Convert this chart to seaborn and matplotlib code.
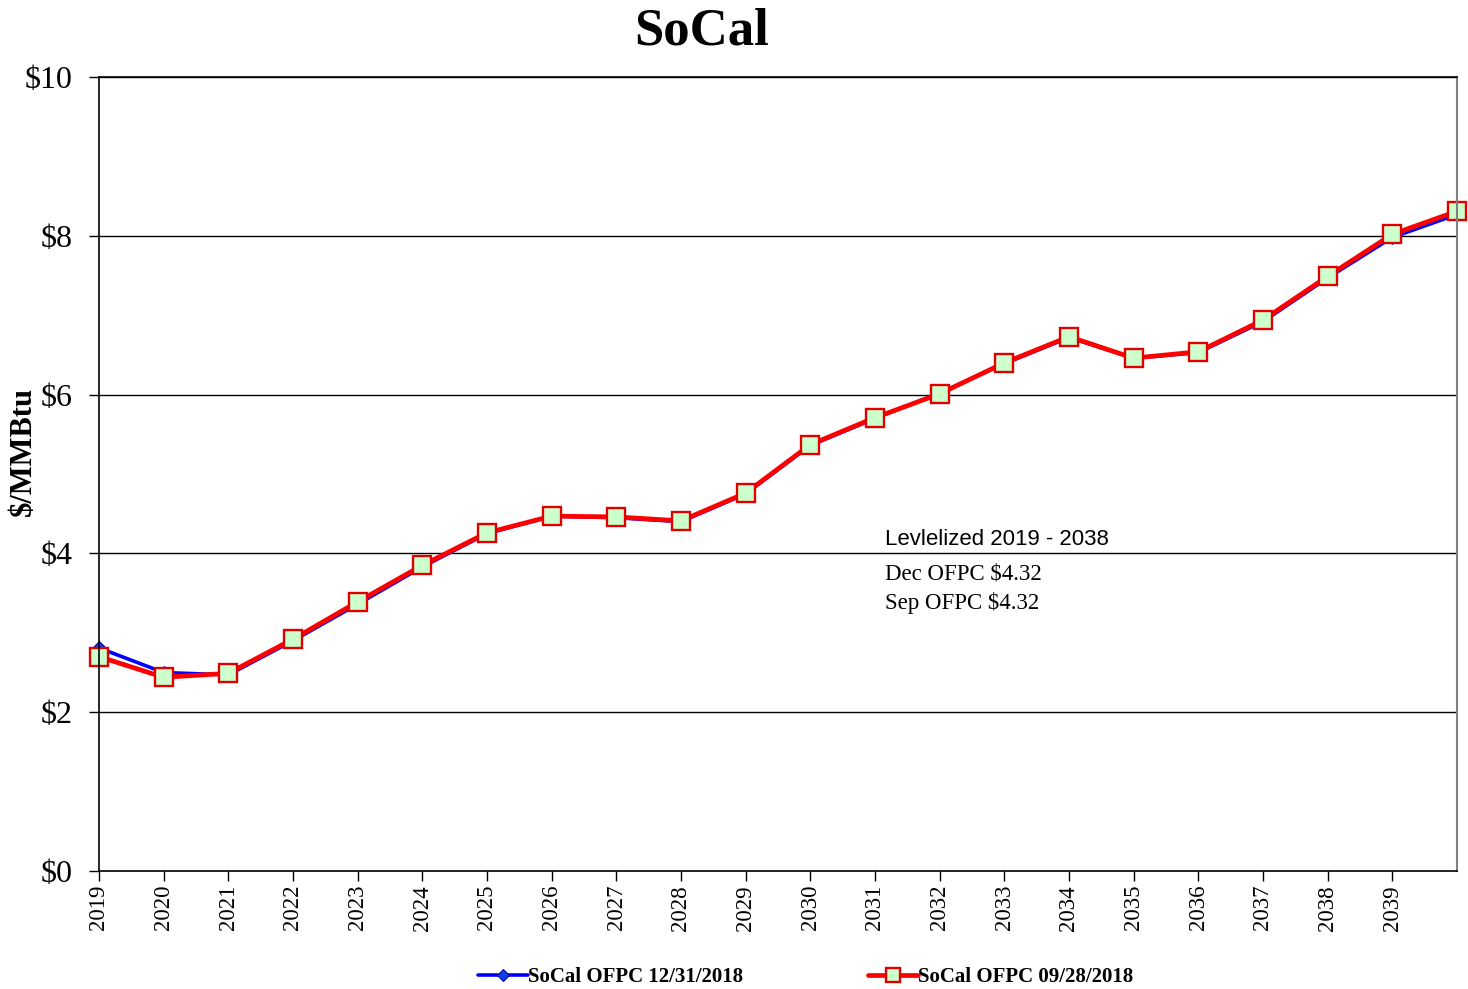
import matplotlib
matplotlib.use("Agg")
import matplotlib.pyplot as plt
import seaborn as sns
import pandas as pd

years = list(range(2019, 2041))
dec_ofpc = [2.81, 2.50, 2.47, 2.90, 3.36, 3.83, 4.25, 4.47, 4.45, 4.40, 4.75, 5.36,
            5.70, 6.02, 6.39, 6.72, 6.46, 6.53, 6.92, 7.47, 7.98, 8.27]
sep_ofpc = [2.70, 2.44, 2.49, 2.92, 3.39, 3.85, 4.26, 4.47, 4.46, 4.41, 4.76, 5.37,
            5.71, 6.01, 6.40, 6.73, 6.46, 6.54, 6.94, 7.49, 8.02, 8.31]
series_names = ["SoCal OFPC 12/31/2018", "SoCal OFPC 09/28/2018"]
tick_years = list(range(2019, 2040))
y_ticks = [0, 2, 4, 6, 8, 10]
y_tick_labels = ["$0", "$2", "$4", "$6", "$8", "$10"]

sns.set_style("white")
plt.rcParams["font.family"] = ["Liberation Serif", "DejaVu Serif"]
plt.rcParams["text.color"] = "black"
plt.rcParams["axes.labelcolor"] = "black"
plt.rcParams["xtick.color"] = "black"
plt.rcParams["ytick.color"] = "black"

fig = plt.figure(figsize=(14.68, 9.89), dpi=100)
ax = fig.add_axes([0.0674, 0.1193, 0.9251, 0.8028])

df_dec = pd.DataFrame({"year": years, "price": dec_ofpc})
df_sep = pd.DataFrame({"year": years, "price": sep_ofpc})

sns.lineplot(data=df_dec, x="year", y="price", ax=ax, color="#0000ff", lw=2.6,
             marker="D", markersize=7.5, markerfacecolor="#1040e0",
             markeredgecolor="#0000aa", label=series_names[0], clip_on=False)
sns.lineplot(data=df_sep, x="year", y="price", ax=ax, color="#ff0000", lw=3.4,
             marker="s", markersize=12.5, markerfacecolor="#ccffcc",
             markeredgecolor="#e00000", markeredgewidth=1.7, label=series_names[1],
             clip_on=False)

ax.set_xlim(2019, 2040)
ax.set_ylim(0, 10)
ax.set_yticks(y_ticks)
ax.set_yticklabels(y_tick_labels, fontsize=23)
ax.set_xticks(tick_years)
ax.set_xticklabels([str(y) for y in tick_years], rotation=90, fontsize=16.5)
ax.tick_params(axis="both", direction="out", length=7, width=1, color="black",
               bottom=True, left=True)
ax.tick_params(axis="y", pad=12)
ax.tick_params(axis="x", pad=3)
for y in y_ticks[1:]:
    ax.axhline(y, color="black", lw=1, zorder=0)

for side in ["left", "bottom", "top"]:
    ax.spines[side].set_visible(True)
    ax.spines[side].set_color("black")
    ax.spines[side].set_linewidth(1.2)
ax.spines["right"].set_visible(True)
ax.spines["right"].set_color("#808080")
ax.spines["right"].set_linewidth(1.5)

ax.set_xlabel("")
ax.set_ylabel("$/MMBtu", fontsize=22, fontweight="bold")
ax.yaxis.set_label_coords(-0.045, 0.529)
fig.text(0.478, 0.968, "SoCal", fontsize=38, fontweight="bold", ha="center", va="center")

ax.text(2031.15, 4.17, "Levlelized 2019 - 2038", fontsize=16,
        family=["Liberation Sans Narrow", "Liberation Sans", "DejaVu Sans"], va="center")
ax.text(2031.15, 3.74, "Dec OFPC $4.32", fontsize=16.5, va="center")
ax.text(2031.15, 3.37, "Sep OFPC $4.32", fontsize=16.5, va="center")

leg = ax.legend(loc="center left", bbox_to_anchor=(0.265, -0.134), ncol=2, frameon=False,
                prop={"weight": "bold", "size": 15}, handlelength=2.4,
                handletextpad=0.0, columnspacing=6.0, markerscale=0.8)

fig.savefig("out.png", dpi=100)
